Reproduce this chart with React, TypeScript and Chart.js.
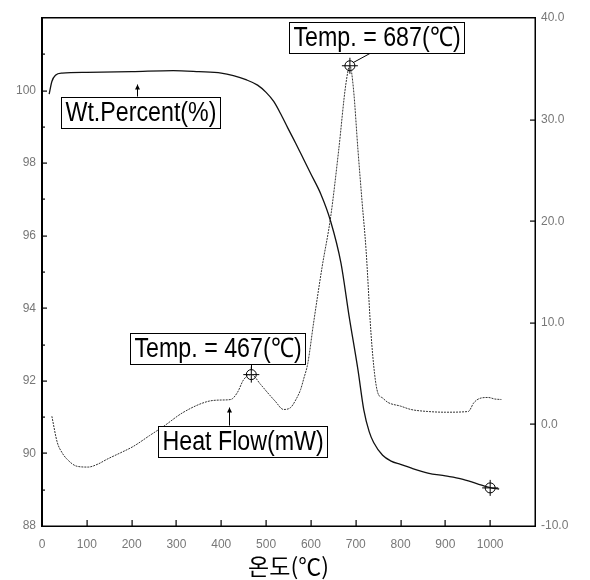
import React, { useEffect, useRef } from 'react';
import { Chart, registerables } from 'chart.js';

Chart.register(...registerables);

// Weight percent curve (left axis)
const wtTemp = [16, 22, 30, 45, 100, 200, 293, 350, 400, 427, 455, 481, 500, 517, 535, 548, 566, 584, 600, 622, 644, 667, 685, 705, 718, 730, 740, 760, 779, 800, 823, 861, 900, 935, 970, 1002, 1020];
const wtValue = [99.9, 100.25, 100.42, 100.48, 100.5, 100.52, 100.55, 100.52, 100.48, 100.41, 100.3, 100.15, 99.95, 99.7, 99.3, 98.98, 98.55, 98.1, 97.7, 97.15, 96.4, 95.25, 93.8, 92.3, 91.2, 90.6, 90.3, 89.95, 89.79, 89.7, 89.6, 89.46, 89.38, 89.3, 89.17, 89.05, 89.02];

// Heat flow curve (right axis)
const hfTemp = [22, 34, 45, 56, 78, 103, 125, 145, 175, 204, 240, 271, 315, 369, 400, 421, 436, 450, 467, 488, 503, 520, 539, 555, 566, 577, 584, 593, 606, 625, 644, 662, 678, 687, 695, 705, 714, 723, 734, 742, 749, 760, 772, 800, 823, 861, 900, 951, 964, 980, 996, 1010, 1025];
const hfValue = [0.8, -1.76, -2.8, -3.43, -4.12, -4.2, -3.9, -3.43, -2.8, -2.16, -1.1, -0.2, 1.18, 2.25, 2.4, 2.45, 3.14, 4.41, 4.9, 3.92, 3.14, 2.3, 1.47, 1.67, 2.4, 3.43, 4.5, 6.0, 10.0, 15.5, 20.4, 27.0, 33.5, 35.3, 33.0, 27.0, 22.0, 17.2, 9.0, 5.0, 3.14, 2.6, 2.16, 1.8, 1.47, 1.27, 1.2, 1.27, 2.16, 2.6, 2.65, 2.5, 2.45];

// Marked points
const peakTemp = [687, 467];
const peakHeat = [35.3, 4.9];
const endTemp = [1000];
const endWt = [89.05];

// Axis settings
const xMin = 0, xMax = 1100, xStep = 100;
const leftMin = 88, leftMax = 102, leftStep = 2, leftLabelMax = 100;
const rightMin = -10, rightMax = 40, rightStep = 10;
const xTitle = '온도(℃)';

// Annotation texts
const peakLabels = ['Temp. = 687(℃)', 'Temp. = 467(℃)'];
const wtLabel = 'Wt.Percent(%)';
const wtLabelTemp = 212;
const hfLabel = 'Heat Flow(mW)';
const hfLabelTemp = 418;

function interp(xs: number[], ys: number[], x: number) {
  for (let i = 0; i < xs.length - 1; i++) {
    if (x >= xs[i] && x <= xs[i + 1]) {
      const f = (x - xs[i]) / (xs[i + 1] - xs[i]);
      return ys[i] + f * (ys[i + 1] - ys[i]);
    }
  }
  return ys[ys.length - 1];
}

function seg(ctx: CanvasRenderingContext2D, x1: number, y1: number, x2: number, y2: number) {
  ctx.beginPath();
  ctx.moveTo(x1, y1);
  ctx.lineTo(x2, y2);
  ctx.stroke();
}

function drawBoxText(ctx: CanvasRenderingContext2D, text: string, cx: number, top: number) {
  ctx.save();
  ctx.setLineDash([]);
  ctx.font = '27px "Liberation Sans", Arial, sans-serif';
  const sx = 0.86;
  const w = ctx.measureText(text).width * sx;
  const bw = Math.round(w + 8);
  const bh = 31;
  const left = Math.round(cx - bw / 2) + 0.5;
  const t = Math.round(top) + 0.5;
  ctx.fillStyle = '#fff';
  ctx.fillRect(left, t, bw, bh);
  ctx.strokeStyle = '#000';
  ctx.lineWidth = 1;
  ctx.strokeRect(left, t, bw, bh);
  ctx.fillStyle = '#000';
  ctx.textBaseline = 'middle';
  ctx.textAlign = 'left';
  ctx.translate(left + 4, t + bh / 2 + 1);
  ctx.scale(sx, 1);
  ctx.fillText(text, 0, 0);
  ctx.restore();
  return { left, right: left + bw, top: t, bottom: t + bh };
}

function drawArrow(ctx: CanvasRenderingContext2D, x: number, tipY: number, tailY: number) {
  ctx.save();
  ctx.setLineDash([]);
  ctx.strokeStyle = '#000';
  ctx.fillStyle = '#000';
  ctx.lineWidth = 1;
  const px = Math.round(x) + 0.5;
  seg(ctx, px, tipY, px, tailY);
  ctx.beginPath();
  ctx.moveTo(px, tipY);
  ctx.lineTo(px - 2.5, tipY + 5);
  ctx.lineTo(px + 2.5, tipY + 5);
  ctx.closePath();
  ctx.fill();
  ctx.restore();
}

const framePlugin = {
  id: 'frameTicks',
  afterDraw(chart: any) {
    const ctx: CanvasRenderingContext2D = chart.ctx;
    const sx = chart.scales.x, sl = chart.scales.yL, sr = chart.scales.yR;
    const L = Math.round(sx.getPixelForValue(xMin));
    const R = Math.round(sx.getPixelForValue(xMax));
    const T = Math.round(sl.getPixelForValue(leftMax));
    const B = Math.round(sl.getPixelForValue(leftMin));
    ctx.save();
    ctx.setLineDash([]);
    ctx.globalAlpha = 1;
    ctx.fillStyle = '#000';
    // frame as filled rectangles (robust 1.5px lines)
    ctx.fillRect(L - 1, T - 1, R - L + 2, 1.5);
    ctx.fillRect(L - 1, B - 0.5, R - L + 2, 1.5);
    ctx.fillRect(L - 1, T - 1, 1.5, B - T + 2);
    ctx.fillRect(R - 0.5, T - 1, 1.5, B - T + 2);
    sx.ticks.forEach((t: any) => {
      if (t.value <= xMin || t.value >= xMax) return;
      const px = Math.round(sx.getPixelForValue(t.value));
      ctx.fillRect(px - 0.5, B - 6, 1.2, 6);
    });
    sl.ticks.forEach((t: any) => {
      const py = Math.round(sl.getPixelForValue(t.value));
      if (t.value > leftMin && t.value < leftMax) ctx.fillRect(L, py - 0.5, 5, 1.2);
      if (t.value + leftStep / 2 < leftMax) {
        const pm = Math.round(sl.getPixelForValue(t.value + leftStep / 2));
        ctx.fillRect(L, pm - 0.5, 3, 1.2);
      }
    });
    sr.ticks.forEach((t: any) => {
      if (t.value <= rightMin || t.value >= rightMax) return;
      const py = Math.round(sr.getPixelForValue(t.value));
      ctx.fillRect(R - 5, py - 0.5, 5, 1.2);
    });
    ctx.restore();

    // Annotations
    const p1x = sx.getPixelForValue(peakTemp[0]);
    const p1y = sr.getPixelForValue(peakHeat[0]);
    const b1 = drawBoxText(ctx, peakLabels[0], p1x + 27, p1y - 44);
    ctx.save();
    ctx.strokeStyle = '#000'; ctx.lineWidth = 1; ctx.setLineDash([]);
    seg(ctx, p1x + 20, b1.bottom, p1x + 3, p1y - 3);
    ctx.restore();

    const p2x = sx.getPixelForValue(peakTemp[1]);
    const p2y = sr.getPixelForValue(peakHeat[1]);
    const b2 = drawBoxText(ctx, peakLabels[1], p2x - 34, p2y - 42);
    ctx.save();
    ctx.strokeStyle = '#000'; ctx.lineWidth = 1; ctx.setLineDash([]);
    seg(ctx, Math.round(p2x) + 0.5, b2.bottom, Math.round(p2x) + 0.5, p2y - 5);
    ctx.restore();

    const wx = sx.getPixelForValue(wtLabelTemp);
    const wy = sl.getPixelForValue(interp(wtTemp, wtValue, wtLabelTemp));
    drawArrow(ctx, wx, wy + 13, wy + 25);
    drawBoxText(ctx, wtLabel, wx + 3, wy + 25);

    const hx = sx.getPixelForValue(hfLabelTemp);
    const hy = sr.getPixelForValue(interp(hfTemp, hfValue, hfLabelTemp));
    drawArrow(ctx, hx, hy + 8, hy + 26);
    drawBoxText(ctx, hfLabel, hx + 13, hy + 26);
  },
};

const tickFont = { family: '"Liberation Sans", Arial, sans-serif', size: 12 };
const tickColor = '#777';
const axisBorder = { display: true, color: '#000', width: 1 };

export default function App() {
  const ref = useRef<HTMLCanvasElement | null>(null);
  useEffect(() => {
    document.body.style.margin = '0';
    const canvas = ref.current!;
    const chart = new Chart(canvas, {
      type: 'line',
      data: {
        datasets: [
          {
            label: 'Wt.Percent(%)',
            data: wtTemp.map((t, i) => ({ x: t, y: wtValue[i] })),
            yAxisID: 'yL',
            borderColor: '#111',
            borderWidth: 1.3,
            pointRadius: 0,
            cubicInterpolationMode: 'monotone',
            fill: false,
          },
          {
            label: 'Heat Flow(mW)',
            data: hfTemp.map((t, i) => ({ x: t, y: hfValue[i] })),
            yAxisID: 'yR',
            borderColor: '#333',
            borderWidth: 1,
            borderDash: [2, 1],
            pointRadius: 0,
            cubicInterpolationMode: 'monotone',
            fill: false,
          },
          {
            label: 'peaks-circle',
            data: peakTemp.map((t, i) => ({ x: t, y: peakHeat[i] })),
            yAxisID: 'yR',
            showLine: false,
            pointStyle: 'circle',
            pointRadius: 5,
            pointBorderColor: '#000',
            pointBackgroundColor: 'rgba(0,0,0,0)',
            pointBorderWidth: 1,
          },
          {
            label: 'peaks-cross',
            data: peakTemp.map((t, i) => ({ x: t, y: peakHeat[i] })),
            yAxisID: 'yR',
            showLine: false,
            pointStyle: 'cross',
            pointRadius: 8,
            pointBorderColor: '#000',
            pointBorderWidth: 1,
          },
          {
            label: 'end-circle',
            data: endTemp.map((t, i) => ({ x: t, y: endWt[i] })),
            yAxisID: 'yL',
            showLine: false,
            pointStyle: 'circle',
            pointRadius: 5,
            pointBorderColor: '#000',
            pointBackgroundColor: 'rgba(0,0,0,0)',
            pointBorderWidth: 1,
          },
          {
            label: 'end-cross',
            data: endTemp.map((t, i) => ({ x: t, y: endWt[i] })),
            yAxisID: 'yL',
            showLine: false,
            pointStyle: 'cross',
            pointRadius: 8,
            pointBorderColor: '#000',
            pointBorderWidth: 1,
          },
        ],
      },
      options: {
        animation: false,
        responsive: false,
        maintainAspectRatio: false,
        layout: { padding: { top: 18, left: 0, right: 0, bottom: 0 } },
        plugins: { legend: { display: false }, tooltip: { enabled: false } },
        scales: {
          x: {
            type: 'linear',
            min: xMin,
            max: xMax,
            ticks: {
              stepSize: xStep,
              padding: 11,
              font: tickFont,
              color: tickColor,
              maxRotation: 0,
              callback: (v: any) => (v >= xMax ? '' : String(v)),
            },
            grid: { display: false, drawTicks: false },
            border: axisBorder,
            title: {
              display: true,
              text: xTitle,
              color: '#000',
              font: { family: '"Noto Sans CJK KR", sans-serif', size: 23 },
              padding: { top: 0, bottom: 0 },
            },
            afterFit: (s: any) => { s.height = 54; },
          },
          yL: {
            type: 'linear',
            position: 'left',
            min: leftMin,
            max: leftMax,
            ticks: {
              stepSize: leftStep,
              padding: 6,
              font: tickFont,
              color: tickColor,
              callback: (v: any) => (v > leftLabelMax ? '' : String(v)),
            },
            grid: { display: false, drawTicks: false },
            border: axisBorder,
            afterFit: (s: any) => { s.width = 42; },
          },
          yR: {
            type: 'linear',
            position: 'right',
            min: rightMin,
            max: rightMax,
            ticks: {
              stepSize: rightStep,
              padding: 6,
              font: tickFont,
              color: tickColor,
              callback: (v: any) => Number(v).toFixed(1),
            },
            grid: { display: false, drawTicks: false },
            border: axisBorder,
            afterFit: (s: any) => { s.width = 55; },
          },
        },
      } as any,
      plugins: [framePlugin as any],
    });
    return () => chart.destroy();
  }, []);
  return (
    <div style={{ width: 590, height: 580, background: '#fff' }}>
      <canvas ref={ref} width={590} height={580} style={{ display: 'block' }} />
    </div>
  );
}
